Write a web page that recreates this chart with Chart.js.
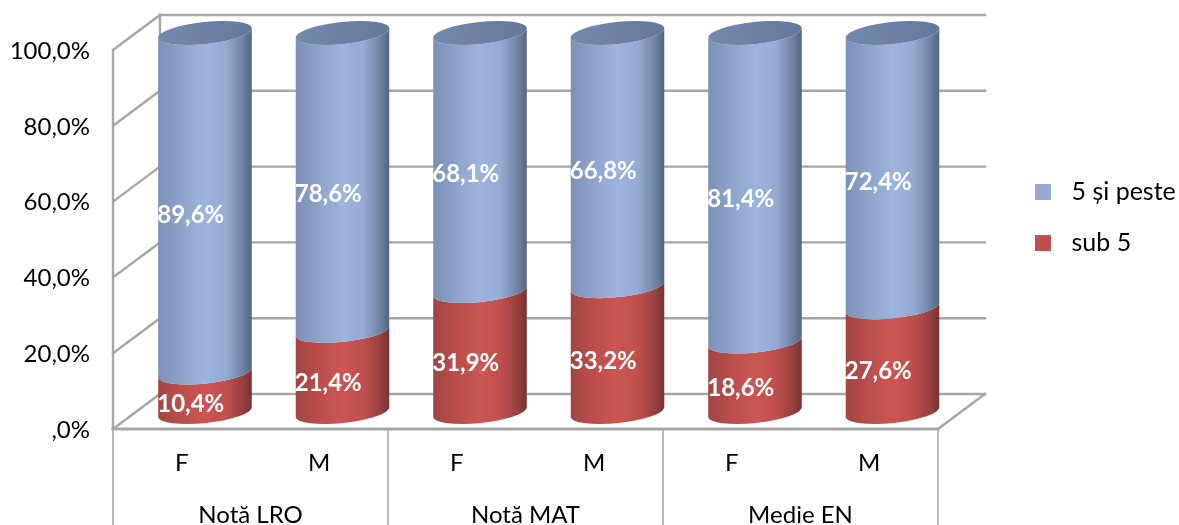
<!DOCTYPE html>
<html>
<head>
<meta charset="utf-8">
<style>html,body{margin:0;padding:0;background:#fff}canvas{display:block}</style>
<script src="https://cdn.jsdelivr.net/npm/chart.js@4"></script>
</head>
<body>
<canvas id="c" width="1179" height="525"></canvas>
<script>
const categories = ['F', 'M', 'F', 'M', 'F', 'M'];
const groups = ['Notă LRO', 'Notă MAT', 'Medie EN'];
const seriesNames = ['sub 5', '5 și peste'];
const sub5 = [10.4, 21.4, 31.9, 33.2, 18.6, 27.6];
const peste5 = [89.6, 78.6, 68.1, 66.8, 81.4, 72.4];
const yTicks = [0, 20, 40, 60, 80, 100];

const FONT = 'Lato';
const GRID = '#a6a6a6';
const DEPTH = {x: 47, y: -35};
const MID = {x: 23.25, y: -17};
const LABEL_OFFSET = {x: 9, y: -5};
const RY = 11, TILT = -0.105;
const stops = {
  blue: ['#7b90b6', '#8ea4ca', '#9cb4de', '#94abd3', '#6f83a5', '#55637f'],
  red: ['#a04543', '#bb4e4c', '#cc5653', '#c04f4c', '#984140', '#733331']
};
const stopPos = [0, .25, .5, .72, .9, 1];

function swatch(color) {
  const cv = document.createElement('canvas');
  cv.width = 24; cv.height = 16;
  const g = cv.getContext('2d');
  g.fillStyle = color;
  g.fillRect(0, 0, 16, 16);
  return cv;
}
const fmt = v => v.toFixed(1).replace('.', ',') + '%';

function line(ctx, x1, y1, x2, y2) {
  ctx.beginPath(); ctx.moveTo(x1, y1); ctx.lineTo(x2, y2); ctx.stroke();
}

const cylinders = {
  id: 'cylinders',
  beforeLayout(chart) {
    const l = chart.legend;
    if (!l._pinned) {
      const fit = l.fit;
      l.fit = function () { fit.call(this); this.width = 241; };
      l._pinned = true;
    }
  },
  afterLayout(chart) {
    const l = chart.legend;
    l.left = 1009; l.right = 1179; l.top = 153.5;
  },
  beforeDatasetsDraw(chart) {
    const {ctx, chartArea: a, scales: {x, y}} = chart;
    ctx.save();
    // walls and floor
    ctx.strokeStyle = GRID; ctx.lineCap = 'square';
    ctx.lineWidth = 2.4;
    yTicks.forEach(t => {
      const py = y.getPixelForValue(t);
      line(ctx, a.left, py, a.left + DEPTH.x, py + DEPTH.y);
      line(ctx, a.left + DEPTH.x, py + DEPTH.y, a.right + DEPTH.x, py + DEPTH.y);
    });
    line(ctx, a.left + DEPTH.x, y.getPixelForValue(100) + DEPTH.y, a.left + DEPTH.x, a.bottom + DEPTH.y);
    line(ctx, a.right, a.bottom, a.right + DEPTH.x, a.bottom + DEPTH.y);
    line(ctx, a.left, a.top, a.left, a.bottom);
    ctx.lineWidth = 2.8;
    line(ctx, a.left, a.bottom, a.right, a.bottom);
    // category separators
    ctx.lineWidth = 1.6; ctx.lineCap = 'butt';
    for (let i = 0; i <= categories.length; i += 2) {
      const px = a.left + (a.right - a.left) * i / categories.length;
      line(ctx, px, a.bottom, px, chart.height);
    }
    // cylinders, from the library's bar geometry
    chart.data.datasets.forEach((ds, di) => {
      const els = chart.getDatasetMeta(di).data;
      els.forEach(b => {
        const cx = b.x + MID.x, rx = b.width / 2;
        const top = b.y + MID.y, bot = b.base + MID.y;
        const dy = Math.sin(TILT) * rx, dxx = Math.cos(TILT) * rx;
        const g = ctx.createLinearGradient(cx - rx, 0, cx + rx, 0);
        stops[ds.tone].forEach((c, i) => g.addColorStop(stopPos[i], c));
        ctx.fillStyle = g;
        ctx.beginPath();
        ctx.ellipse(cx, bot, rx, RY, TILT, 0, Math.PI);
        ctx.lineTo(cx - dxx, top - dy);
        ctx.ellipse(cx, top, rx, RY, TILT, Math.PI, 0, true);
        ctx.lineTo(cx + dxx, bot + dy);
        ctx.closePath();
        ctx.fill();
        if (di === chart.data.datasets.length - 1) {
          const cap = ctx.createLinearGradient(cx - rx, 0, cx + rx, 0);
          cap.addColorStop(0, '#7389ae'); cap.addColorStop(1, '#64789b');
          ctx.fillStyle = cap;
          ctx.beginPath();
          ctx.ellipse(cx, top, rx, RY, TILT, 0, Math.PI * 2);
          ctx.fill();
        }
      });
    });
    // value labels
    ctx.fillStyle = '#fff';
    ctx.font = 'bold 24px ' + FONT;
    ctx.textAlign = 'center'; ctx.textBaseline = 'middle';
    chart.data.datasets.forEach((ds, di) => {
      chart.getDatasetMeta(di).data.forEach((b, i) => {
        ctx.fillText(fmt(ds.data[i]), b.x + LABEL_OFFSET.x, (b.y + b.base) / 2 + LABEL_OFFSET.y);
      });
    });
    ctx.restore();
    return false;
  }
};

new Chart(document.getElementById('c'), {
  type: 'bar',
  data: {
    labels: categories,
    datasets: [
      {label: seriesNames[0], data: sub5, tone: 'red', backgroundColor: '#c0504d', pointStyle: swatch('#c0504d'),
       barPercentage: 0.684, categoryPercentage: 1},
      {label: seriesNames[1], data: peste5, tone: 'blue', backgroundColor: '#95abd3', pointStyle: swatch('#95abd3'),
       barPercentage: 0.684, categoryPercentage: 1}
    ]
  },
  plugins: [cylinders],
  options: {
    responsive: false,
    animation: false,
    layout: {padding: {top: 50, left: 0, right: 0, bottom: 0}},
    plugins: {
      tooltip: {enabled: false},
      legend: {
        position: 'right', align: 'start', reverse: true,
        labels: {
          usePointStyle: true, pointStyleWidth: 24, boxHeight: 25, padding: 26,
          color: '#000', font: {family: FONT, size: 25}
        }
      }
    },
    scales: {
      x: {
        stacked: true, position: 'bottom',
        grid: {display: false}, border: {display: false},
        ticks: {color: '#000', padding: 12, font: {family: FONT, size: 24}, maxRotation: 0},
        afterFit(s) { s.height = 60; }
      },
      x2: {
        type: 'category', labels: groups, position: 'bottom', offset: true,
        grid: {display: false}, border: {display: false},
        ticks: {color: '#000', padding: 4, font: {family: FONT, size: 24}, maxRotation: 0},
        afterFit(s) { s.height = 36; }
      },
      y: {
        stacked: true, min: 0, max: 100,
        afterBuildTicks(s) { s.ticks = yTicks.map(v => ({value: v})); },
        grid: {display: false}, border: {display: false},
        ticks: {
          color: '#000', padding: 15, labelOffset: 1, font: {family: FONT, size: 24},
          callback: v => v === 0 ? ',0%' : fmt(v)
        },
        afterFit(s) { s.width = 113; }
      }
    }
  }
});
</script>
</body>
</html>
